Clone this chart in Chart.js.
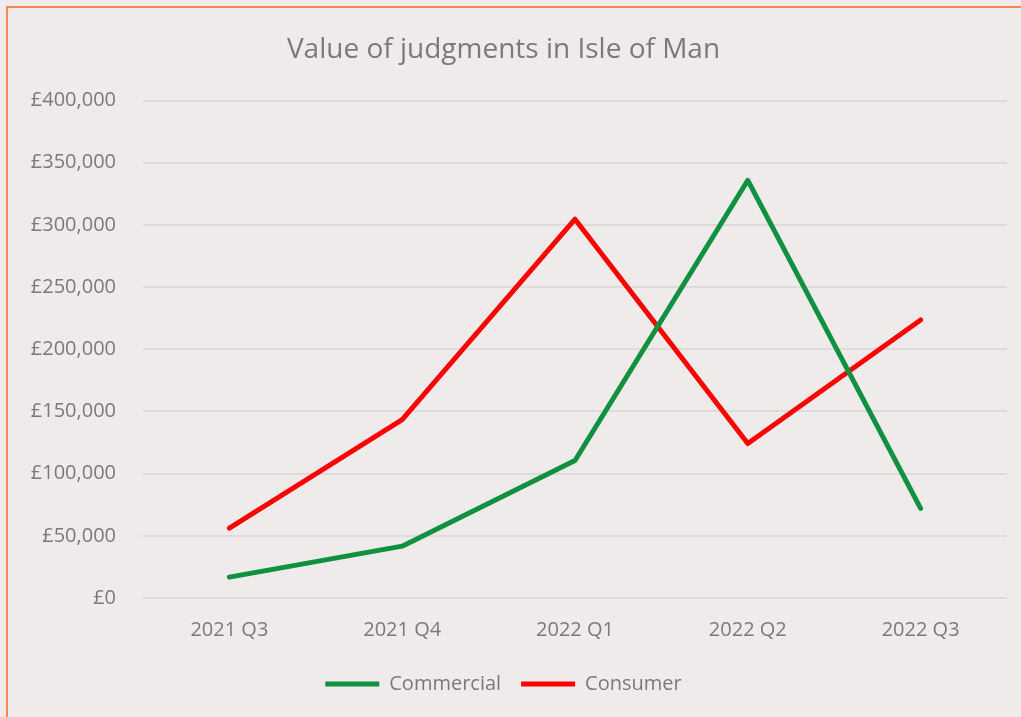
<!DOCTYPE html>
<html>
<head>
<meta charset="utf-8">
<script src="https://cdn.jsdelivr.net/npm/chart.js@4"></script>
<style>
  html, body { margin: 0; padding: 0; background: #eeebea; overflow: hidden; }
  #frame {
    position: absolute; left: 6px; top: 6px; width: 1040px; height: 740px;
    border: 2px solid #f08a52; box-sizing: border-box;
  }
  #wrap { position: absolute; left: 0; top: 0; width: 1021px; height: 717px; }
</style>
</head>
<body>
<div id="frame"></div>
<div id="wrap"><canvas id="myChart"></canvas></div>
<script>
const quarters = ['2021 Q3', '2021 Q4', '2022 Q1', '2022 Q2', '2022 Q3'];
const commercial = [16800, 41700, 110600, 335900, 72100];
const consumer = [56100, 143500, 304600, 124200, 223600];

const grey = '#7a7a7a';
const fontFamily = "'Open Sans', 'Liberation Sans', sans-serif";

const ctx = document.getElementById('myChart');

new Chart(ctx, {
  type: 'line',
  data: {
    labels: quarters,
    datasets: [{
      label: 'Commercial',
      data: commercial,
      borderColor: '#0f9140',
      backgroundColor: '#0f9140',
      borderWidth: 5,
      borderCapStyle: 'round',
      borderJoinStyle: 'round',
      pointRadius: 0,
      pointStyle: 'line',
      tension: 0
    }, {
      label: 'Consumer',
      data: consumer,
      borderColor: '#ff0000',
      backgroundColor: '#ff0000',
      borderWidth: 5,
      borderCapStyle: 'round',
      borderJoinStyle: 'round',
      pointRadius: 0,
      pointStyle: 'line',
      tension: 0
    }]
  },
  options: {
    responsive: true,
    maintainAspectRatio: false,
    animation: false,
    layout: { padding: { left: 0, right: 14, top: 33, bottom: 13 } },
    plugins: {
      title: {
        display: true,
        text: 'Value of judgments in Isle of Man',
        color: grey,
        font: { family: fontFamily, size: 28, weight: 'normal' },
        padding: { top: 0, bottom: 34 }
      },
      legend: {
        position: 'bottom',
        labels: {
          color: grey,
          font: { family: fontFamily, size: 20 },
          usePointStyle: true,
          pointStyleWidth: 54,
          boxHeight: 20,
          padding: 20
        }
      },
      tooltip: { enabled: false }
    },
    scales: {
      x: {
        offset: true,
        grid: { display: false },
        border: { display: false },
        ticks: { color: grey, font: { family: fontFamily, size: 20 }, padding: 12 }
      },
      y: {
        min: 0,
        max: 400000,
        grid: { color: '#dedbda', lineWidth: 2, drawTicks: false },
        border: { display: false },
        afterFit: scale => { scale.width = 143; },
        ticks: {
          stepSize: 50000,
          color: grey,
          padding: 27,
          font: { family: fontFamily, size: 20 },
          callback: v => '£' + v.toLocaleString('en-GB')
        }
      }
    }
  }
});
</script>
</body>
</html>
